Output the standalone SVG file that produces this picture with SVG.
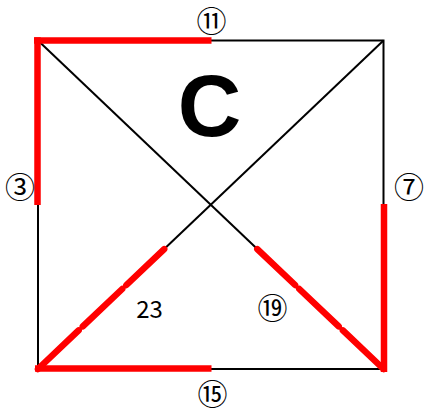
<svg xmlns="http://www.w3.org/2000/svg" width="424" height="414" viewBox="0 0 424 414">
  <style>
    .blk { stroke: #000; stroke-width: 2; fill: none; }
    .red { stroke: #ff0000; stroke-width: 6.5; fill: none; stroke-linecap: butt; }
    .redd { stroke: #ff0000; stroke-width: 6.5; fill: none; stroke-linecap: round; }
    .lbl { font-family: "Noto Sans CJK JP", "DejaVu Sans", sans-serif; font-size: 30px; fill: #000; text-anchor: middle; }
    .num { font-family: "Noto Sans CJK JP", "DejaVu Sans", sans-serif; font-size: 24px; fill: #000; text-anchor: middle; }
    .big { font-family: "Liberation Sans", Arial, sans-serif; font-weight: bold; font-size: 88px; fill: #000; text-anchor: middle; }
  </style>
  <rect width="424" height="414" fill="#fff"/>
  <g id="connectors">
    <path class="blk" d="M38 40.5 H383.5 V369 H38 Z"/>
    <line class="blk" x1="38" y1="40.5" x2="383.5" y2="369"/>
    <line class="blk" x1="383.5" y1="40.5" x2="38" y2="369"/>
    <line class="red" x1="34" y1="40.5" x2="211.5" y2="40.5"/>
    <line class="red" x1="37.5" y1="37.3" x2="37.5" y2="205"/>
    <line class="red" x1="384" y1="204" x2="384" y2="372"/>
    <line class="red" x1="35" y1="368.5" x2="211.5" y2="368.5"/>
    <path class="redd" d="M38 369 L78.6 330.4 M82.8 326.4 L122.2 289 M126.4 285 L164.2 249.1"/>
    <path class="redd" d="M383.5 369 L342.9 330.4 M338.7 326.4 L299.3 289 M295.1 285 L257.3 249.1"/>
  </g>
  <g id="label-C"><text class="big" x="209.5" y="136">C</text></g>
  <g id="label-11"><text class="lbl" x="211.5" y="31.6">⑪</text></g>
  <g id="label-3"><text class="lbl" x="20" y="197.6">③</text></g>
  <g id="label-7"><text class="lbl" x="409" y="197.6">⑦</text></g>
  <g id="label-15"><text class="lbl" x="212.5" y="405">⑮</text></g>
  <g id="label-19"><text class="lbl" x="272.5" y="319">⑲</text></g>
  <g id="label-23"><text class="num" x="149.5" y="317.5">23</text></g>
</svg>
